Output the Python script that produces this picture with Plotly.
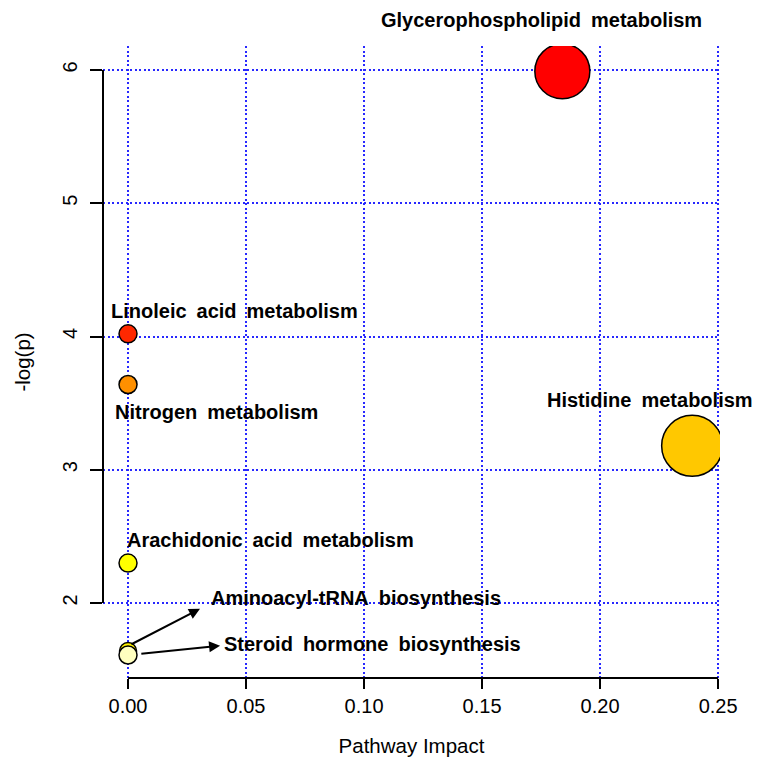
import plotly.graph_objects as go

# pathway topology results
pathways = ["Glycerophospholipid metabolism", "Histidine metabolism",
            "Linoleic acid metabolism", "Nitrogen metabolism",
            "Arachidonic acid metabolism", "Aminoacyl-tRNA biosynthesis",
            "Steroid hormone biosynthesis"]
impact = [0.184, 0.239, 0.0, 0.0, 0.0, 0.0, 0.0]
neglogp = [5.99, 3.18, 4.02, 3.64, 2.30, 1.64, 1.61]
bubble = [55, 61, 18, 18, 18, 17, 18]
colors = ["#FF0000", "#FFC800", "#FF2800", "#FF9000", "#FFFF00", "#FFF200", "#FFFFBF"]

xticks = [0.00, 0.05, 0.10, 0.15, 0.20, 0.25]
yticks = [2, 3, 4, 5, 6]

# label placement (x, y, yref) for each pathway, in axis units
label_pos = [(0.175, 1.041, "paper"), (0.2212, 3.525, "y"), (0.0453, 4.19, "y"),
             (0.0373, 3.435, "y"), (0.0602, 2.475, "y"), (0.0966, 2.04, "y"),
             (0.1034, 1.695, "y")]

fig = go.Figure()
fig.add_trace(go.Scatter(
    x=impact, y=neglogp, mode="markers",
    marker=dict(size=bubble, color=colors, opacity=1,
                line=dict(color="black", width=1.5)),
    text=pathways, hoverinfo="text", showlegend=False))

lab_font = dict(family="Liberation Sans, Arial", size=20, color="black")
for name, (lx, ly, yr) in zip(pathways, label_pos):
    fig.add_annotation(x=lx, y=ly, xref="x", yref=yr,
                       text="<b>" + name.replace(" ", "\u2002") + "</b>",
                       showarrow=False, font=lab_font, xanchor="center", yanchor="middle")

# arrows for the two overlapping points
arrows = [(5, 0.0305, 1.957, 0.0008, 0.045), (6, 0.039, 1.68, 0.005, 0.008)]
for i, hx, hy, dx, dy in arrows:
    fig.add_annotation(x=hx, y=hy, ax=impact[i] + dx, ay=neglogp[i] + dy,
                       xref="x", yref="y", axref="x", ayref="y", text="",
                       showarrow=True, arrowhead=2, arrowsize=1.1, arrowwidth=2,
                       arrowcolor="black")

# R-style axis lines spanning only the tick range
fig.add_shape(type="line", xref="paper", yref="y", x0=0, x1=0,
              y0=min(yticks), y1=max(yticks), line=dict(color="black", width=2))
fig.add_shape(type="line", xref="x", yref="paper", x0=min(xticks), x1=max(xticks),
              y0=0, y1=0, line=dict(color="black", width=2))

tick_font = dict(family="Liberation Sans, Arial", size=20, color="black")
title_font = dict(family="Liberation Sans, Arial", size=20.5, color="black")
grid = dict(showgrid=True, gridcolor="#2828FF", griddash="2px,2.5px", gridwidth=2,
            zeroline=False, showline=False, ticks="outside", tickwidth=2,
            tickcolor="black", tickfont=tick_font, automargin=False)
fig.update_xaxes(range=[-0.0106, 0.2508], tickvals=xticks,
                 ticktext=["%.2f" % v for v in xticks], ticklen=10,
                 title=dict(text="Pathway Impact", font=title_font, standoff=22), **grid)
fig.update_yaxes(range=[1.4375, 6.18], tickvals=yticks, tickangle=-90, ticklen=12,
                 ticklabelstandoff=5,
                 title=dict(text="-log(p)", font=title_font, standoff=22), **grid)

# page body adds an 8px offset, so the figure is drawn slightly smaller
fig.update_layout(width=760, height=760, plot_bgcolor="white", paper_bgcolor="white",
                  margin=dict(l=95, r=48, t=38, b=90, autoexpand=False))

fig.write_html("out.html")
